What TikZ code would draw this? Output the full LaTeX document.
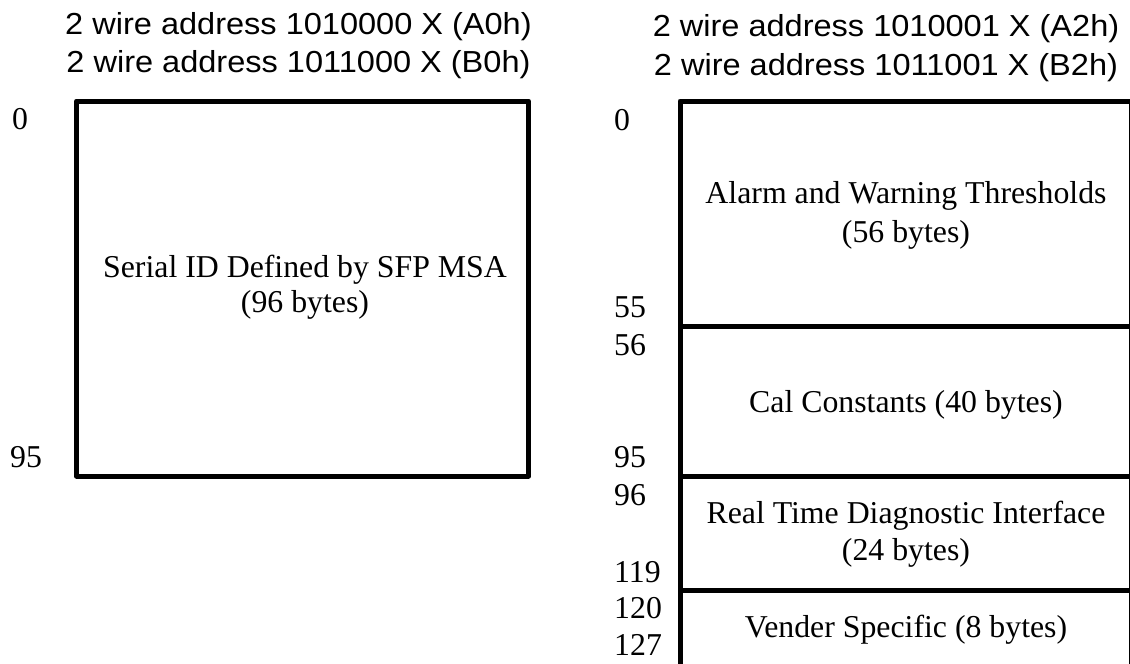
\documentclass[tikz,border=0pt]{standalone}
\usepackage{fontspec}
\setmainfont{Liberation Serif}
\newfontfamily\headfont{Liberation Sans}
\begin{document}
\begin{tikzpicture}[x=1pt,y=-1pt,
  frame/.style={draw=black,line width=5pt,line join=round},
  head/.style={anchor=base,inner sep=0pt,xscale=1.07,font=\headfont\fontsize{30.4}{33}\selectfont},
  field/.style={anchor=base,inner sep=0pt,align=center,font=\fontsize{31.8}{35}\selectfont},
  offset/.style={anchor=base west,inner sep=0pt,font=\fontsize{31.8}{35}\selectfont}]
\useasboundingbox (0,0) rectangle (1130,664);

% address headings
\node[head] (hA0) at (298.5,34.3) {2 wire address 1010000 X (A0h)};
\node[head] (hB0) at (298.5,72.7) {2 wire address 1011000 X (B0h)};
\node[head] (hA2) at (886,36.5) {2 wire address 1010001 X (A2h)};
\node[head] (hB2) at (886,75) {2 wire address 1011001 X (B2h)};

% left memory map (A0h)
\draw[frame] (76.5,101) rectangle (528.5,476);
\node[field] (serial) at (305,277) {Serial ID Defined by SFP MSA};
\node[field] (serialsz) at (305,312) {(96 bytes)};
\node[offset] (l0) at (12,129.5) {0};
\node[offset] (l95) at (10,467) {95};

% right memory map (A2h)
\draw[frame] (680,101) rectangle (1131.5,666);
\draw[frame] (680,326) -- (1131.5,326);
\draw[frame] (680,476) -- (1131.5,476);
\draw[frame] (680,590) -- (1131.5,590);

\node[field] (alarm) at (906,203) {Alarm and Warning Thresholds};
\node[field] (alarmsz) at (906,242) {(56 bytes)};
\node[field] (cal) at (906,412) {Cal Constants (40 bytes)};
\node[field] (diag) at (906,523) {Real Time Diagnostic Interface};
\node[field] (diagsz) at (906,560) {(24 bytes)};
\node[field] (vend) at (906,637) {Vender Specific (8 bytes)};

\node[offset] (r0) at (614,130) {0};
\node[offset] (r55) at (614,317) {55};
\node[offset] (r56) at (614,355) {56};
\node[offset] (r95) at (614,467) {95};
\node[offset] (r96) at (614,505) {96};
\node[offset] (r119) at (614,582) {119};
\node[offset] (r120) at (614,618) {120};
\node[offset] (r127) at (614,655) {127};
\end{tikzpicture}
\end{document}
